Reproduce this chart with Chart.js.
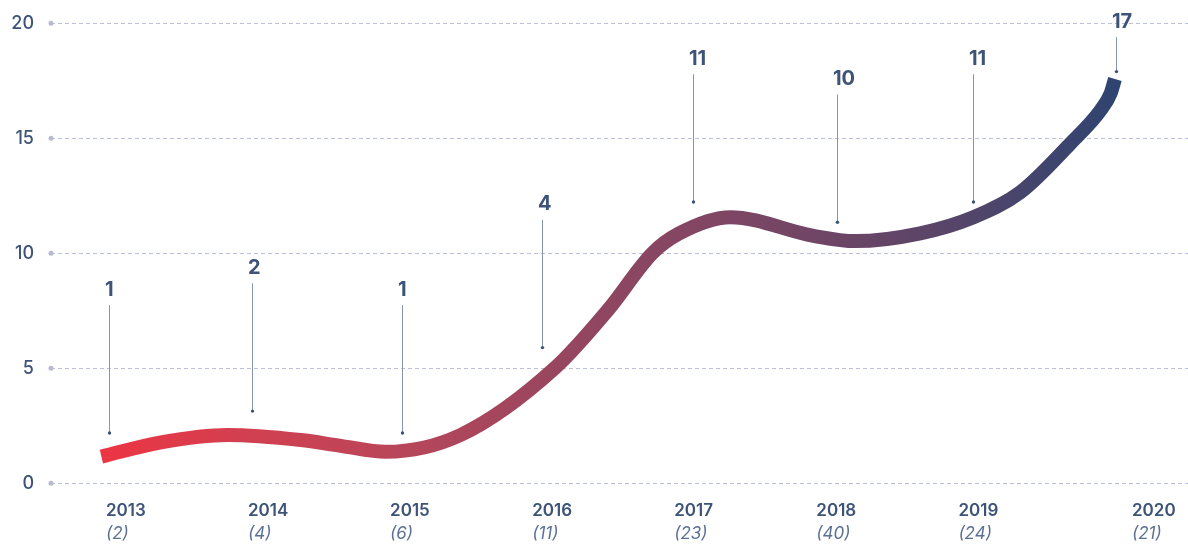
<!DOCTYPE html>
<html>
<head>
<meta charset="utf-8">
<script src="https://cdn.jsdelivr.net/npm/chart.js@4/dist/chart.umd.min.js"></script>
<style>
  html, body { margin: 0; padding: 0; background: #ffffff; }
  #wrap { width: 1188px; height: 552px; position: relative; }
</style>
</head>
<body>
<div id="wrap"><canvas id="c"></canvas></div>
<script>
// ---- data ----
const yearLabels = ['2013', '2014', '2015', '2016', '2017', '2018', '2019', '2020'];
const yearCounts = ['(2)', '(4)', '(6)', '(11)', '(23)', '(40)', '(24)', '(21)'];
const yearTickValues = [2013, 2014, 2015, 2016, 2017, 2018, 2019, 2020.222];

// smooth trend line (x in fractional years, y value)
const curveYears  = [2012.968, 2013.387, 2013.858, 2014.371, 2014.653, 2014.969, 2015.496, 2016.158, 2016.534, 2016.845, 2017.030, 2017.395, 2017.981, 2018.274, 2018.731, 2019.106, 2019.435, 2019.786, 2020.002, 2020.072, 2020.102];
const curveValues = [1.16, 1.78, 2.10, 1.88, 1.63, 1.37, 2.10, 5.00, 7.54, 10.00, 10.85, 11.57, 10.76, 10.53, 10.87, 11.57, 12.65, 14.76, 16.23, 16.96, 17.58];

// callout annotations
const annoLabels  = ['1', '2', '1', '4', '11', '10', '11', '17'];
const annoYears   = [2013.019, 2014.029, 2015.084, 2016.068, 2017.130, 2018.143, 2019.106, 2020.108];
const annoAnchors = [2.19, 3.14, 2.19, 5.90, 12.23, 11.35, 12.23, 17.90];

const yTicks = [0, 5, 10, 15, 20];

// ---- styling ----
const TEXT = '#3d5377';
const FONT = 'Inter';

const decor = {
  id: 'decor',
  beforeDatasetsDraw(chart) {
    const { ctx, chartArea, scales: { y } } = chart;
    ctx.save();
    ctx.fillStyle = '#b8bad2';
    y.ticks.forEach(t => {
      const py = y.getPixelForValue(t.value);
      ctx.beginPath();
      ctx.arc(chartArea.left, py, 2.5, 0, Math.PI * 2);
      ctx.fill();
    });
    ctx.restore();
  },
  afterDatasetsDraw(chart) {
    const { ctx, scales: { x, y } } = chart;
    ctx.save();
    ctx.font = '700 20px ' + FONT;
    ctx.textAlign = 'left';
    ctx.textBaseline = 'alphabetic';
    annoLabels.forEach((lab, i) => {
      const px = Math.round(x.getPixelForValue(annoYears[i])) + 0.5;
      const yd = y.getPixelForValue(annoAnchors[i]);
      const baseline = Math.max(27.8, yd - 137.2);
      ctx.fillStyle = TEXT;
      ctx.fillText(lab, px - 4.5, baseline);
      ctx.strokeStyle = '#8893ad';
      ctx.lineWidth = 1;
      ctx.beginPath();
      ctx.moveTo(px, baseline + 9.4);
      ctx.lineTo(px, yd);
      ctx.stroke();
      ctx.fillStyle = TEXT;
      ctx.beginPath();
      ctx.arc(px, yd, 1.7, 0, Math.PI * 2);
      ctx.fill();
    });
    ctx.restore();
  }
};

function lineGradient(context) {
  const chart = context.chart;
  const { ctx, chartArea, scales } = chart;
  if (!chartArea || !scales.x) return '#e8394a';
  const x0 = scales.x.getPixelForValue(curveYears[0]);
  const x1 = scales.x.getPixelForValue(curveYears[curveYears.length - 1]);
  const g = ctx.createLinearGradient(x0, 0, x1, 0);
  g.addColorStop(0.00, '#ec3544');
  g.addColorStop(0.13, '#d43f4f');
  g.addColorStop(0.29, '#b9465a');
  g.addColorStop(0.49, '#904661');
  g.addColorStop(0.62, '#7e4664');
  g.addColorStop(0.74, '#6a4566');
  g.addColorStop(0.86, '#52456a');
  g.addColorStop(1.00, '#2f4470');
  return g;
}

const xMin = 2013 - 55 / 142.2;
const xMax = 2013 + (1188 - 105) / 142.2;

function setYearTicks(axis) {
  axis.ticks = yearTickValues.map(v => ({ value: v }));
}
function fitBottom(h) {
  return axis => {
    axis.paddingLeft = 0;
    axis.paddingRight = 0;
    axis.height = h;
  };
}

new Chart(document.getElementById('c'), {
  type: 'line',
  data: {
    datasets: [{
      data: curveYears.map((yr, i) => ({ x: yr, y: curveValues[i] })),
      borderColor: lineGradient,
      borderWidth: 14,
      borderCapStyle: 'butt',
      borderJoinStyle: 'round',
      cubicInterpolationMode: 'monotone',
      pointRadius: 0,
      pointHoverRadius: 0,
      fill: false
    }]
  },
  options: {
    responsive: true,
    maintainAspectRatio: false,
    animation: false,
    events: [],
    layout: { padding: { top: 23.3, right: 0, bottom: 7.6, left: 0 } },
    plugins: { legend: { display: false }, tooltip: { enabled: false } },
    scales: {
      x: {
        type: 'linear',
        position: 'bottom',
        weight: 0,
        min: xMin,
        max: xMax,
        afterBuildTicks: setYearTicks,
        afterFit: fitBottom(38.2),
        grid: { display: false, drawTicks: false },
        border: { display: false },
        ticks: {
          align: 'start',
          padding: 17.8,
          autoSkip: false,
          maxRotation: 0,
          color: TEXT,
          font: { family: FONT, size: 17, weight: '600' },
          callback: (v, i) => yearLabels[i]
        }
      },
      x2: {
        type: 'linear',
        axis: 'x',
        position: 'bottom',
        weight: 1,
        min: xMin,
        max: xMax,
        afterBuildTicks: setYearTicks,
        afterFit: fitBottom(22.9),
        grid: { display: false, drawTicks: false },
        border: { display: false },
        ticks: {
          align: 'start',
          padding: 2.5,
          autoSkip: false,
          maxRotation: 0,
          color: '#5b7094',
          font: { family: FONT, size: 17, style: 'italic', weight: '400' },
          callback: (v, i) => yearCounts[i]
        }
      },
      y: {
        type: 'linear',
        min: 0,
        max: 20,
        afterBuildTicks: axis => { axis.ticks = yTicks.map(v => ({ value: v })); },
        afterFit: axis => { axis.width = 51; axis.paddingTop = 0; axis.paddingBottom = 0; },
        grid: { color: '#bcbfd9', lineWidth: 1, drawTicks: false },
        border: { display: false, dash: [4, 3] },
        ticks: {
          padding: 17,
          color: TEXT,
          font: { family: FONT, size: 18, weight: '500' },
          callback: v => String(v)
        }
      }
    }
  },
  plugins: [decor]
});
</script>
</body>
</html>
